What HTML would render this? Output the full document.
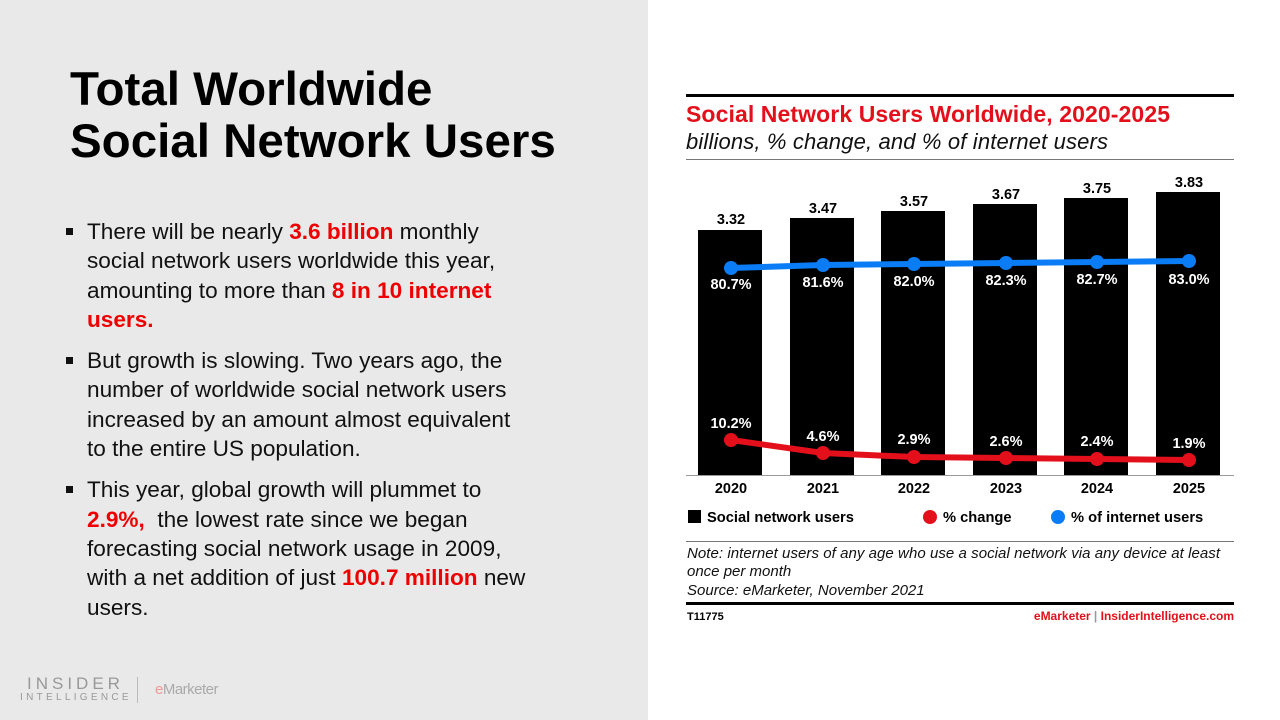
<!DOCTYPE html>
<html><head><meta charset="utf-8"><style>
body{margin:0;width:1280px;height:720px;position:relative;font-family:"Liberation Sans",sans-serif;background:#fff;overflow:hidden}
#left{position:absolute;left:0;top:0;width:648px;height:720px;background:#e9e9e9}
h1{position:absolute;left:70px;top:64px;margin:0;font-size:47.5px;line-height:52px;font-weight:bold;color:#000}
ul{position:absolute;left:64px;top:217px;margin:0;padding:0;list-style:none;width:520px}
li{position:relative;padding-left:23px;font-size:22.6px;line-height:29.3px;color:#111;margin-bottom:12px;white-space:nowrap}
li:before{content:"";position:absolute;left:2px;top:11px;width:7px;height:7px;background:#111}
.r{color:#e00;font-weight:bold}
.t{position:absolute;white-space:nowrap}
</style></head><body>
<div id="left">
<h1>Total Worldwide<br>Social Network Users</h1>
<ul>
<li>There will be nearly <span class="r">3.6 billion</span> monthly<br>social network users worldwide this year,<br>amounting to more than <span class="r">8 in 10 internet<br>users.</span></li>
<li>But growth is slowing. Two years ago, the<br>number of worldwide social network users<br>increased by an amount almost equivalent<br>to the entire US population.</li>
<li>This year, global growth will plummet to<br><span class="r">2.9%,</span>&nbsp; the lowest rate since we began<br>forecasting social network usage in 2009,<br>with a net addition of just <span class="r">100.7 million</span> new<br>users.</li>
</ul>
<div class="t" style="left:27px;top:674px;font-size:17px;letter-spacing:4px;color:#999">INSIDER</div>
<div class="t" style="left:20px;top:692px;font-size:10px;letter-spacing:3.3px;color:#999">INTELLIGENCE</div>
<div style="position:absolute;left:137px;top:677px;width:1px;height:26px;background:#bbb"></div>
<div class="t" style="left:155px;top:681px;font-size:15px;color:#aaa;letter-spacing:-0.5px"><span style="color:#e99">e</span>Marketer</div>
</div>
<svg width="1280" height="720" style="position:absolute;left:0;top:0" font-family="Liberation Sans, sans-serif">
<rect x="686" y="94" width="548" height="3" fill="#000"/>
<text x="686" y="122" font-size="23" font-weight="bold" fill="#e3101b" textLength="484">Social Network Users Worldwide, 2020-2025</text>
<text x="686" y="149" font-size="22" font-style="italic" fill="#111" textLength="422">billions, % change, and % of internet users</text>
<rect x="686" y="159" width="548" height="1" fill="#777"/>
<g fill="#000">
<rect x="698" y="230" width="64" height="245"/><rect x="790" y="218" width="64" height="257"/><rect x="881" y="211" width="64" height="264"/><rect x="973" y="204" width="64" height="271"/><rect x="1064" y="198" width="64" height="277"/><rect x="1156" y="192" width="64" height="283"/>
</g>
<rect x="686" y="475" width="548" height="1" fill="#999"/>
<g font-size="14.5" font-weight="bold" text-anchor="middle" fill="#000">
<text x="731" y="224">3.32</text><text x="823" y="213">3.47</text><text x="914" y="206">3.57</text><text x="1006" y="199">3.67</text><text x="1097" y="193">3.75</text><text x="1189" y="187">3.83</text>
<text x="731" y="493">2020</text><text x="823" y="493">2021</text><text x="914" y="493">2022</text><text x="1006" y="493">2023</text><text x="1097" y="493">2024</text><text x="1189" y="493">2025</text>
</g>
<polyline points="731,268 823,265 914,264 1006,263 1097,262 1189,261" fill="none" stroke="#0a7cf5" stroke-width="6"/>
<g fill="#0a7cf5"><circle cx="731" cy="268" r="7"/><circle cx="823" cy="265" r="7"/><circle cx="914" cy="264" r="7"/><circle cx="1006" cy="263" r="7"/><circle cx="1097" cy="262" r="7"/><circle cx="1189" cy="261" r="7"/></g>
<g font-size="14.5" font-weight="bold" text-anchor="middle" fill="#fff">
<text x="731" y="289">80.7%</text><text x="823" y="287">81.6%</text><text x="914" y="286">82.0%</text><text x="1006" y="285">82.3%</text><text x="1097" y="284">82.7%</text><text x="1189" y="284">83.0%</text>
<text x="731" y="428">10.2%</text><text x="823" y="441">4.6%</text><text x="914" y="444">2.9%</text><text x="1006" y="446">2.6%</text><text x="1097" y="446">2.4%</text><text x="1189" y="448">1.9%</text>
</g>
<polyline points="731,440 823,453 914,457 1006,458 1097,459 1189,460" fill="none" stroke="#e3101b" stroke-width="6"/>
<g fill="#e3101b"><circle cx="731" cy="440" r="7"/><circle cx="823" cy="453" r="7"/><circle cx="914" cy="457" r="7"/><circle cx="1006" cy="458" r="7"/><circle cx="1097" cy="459" r="7"/><circle cx="1189" cy="460" r="7"/></g>
<rect x="688" y="510" width="13" height="13" fill="#000"/>
<text x="707" y="522" font-size="14.7" font-weight="bold">Social network users</text>
<circle cx="930" cy="517" r="7" fill="#e3101b"/>
<text x="943" y="522" font-size="14.7" font-weight="bold">% change</text>
<circle cx="1058" cy="517" r="7" fill="#0a7cf5"/>
<text x="1071" y="522" font-size="14.7" font-weight="bold">% of internet users</text>
<rect x="686" y="541" width="548" height="1" fill="#777"/>
<g font-size="15" font-style="italic" fill="#111">
<text x="687" y="558" textLength="533">Note: internet users of any age who use a social network via any device at least</text>
<text x="687" y="576">once per month</text>
<text x="687" y="595">Source: eMarketer, November 2021</text>
</g>
<rect x="686" y="602" width="548" height="3" fill="#000"/>
<text x="687" y="620" font-size="11" font-weight="bold">T11775</text>
<text x="1234" y="620" font-size="12" font-weight="bold" text-anchor="end"><tspan fill="#e3101b">eMarketer</tspan><tspan fill="#999"> | </tspan><tspan fill="#e3101b">InsiderIntelligence.com</tspan></text>
</svg>
</body></html>
